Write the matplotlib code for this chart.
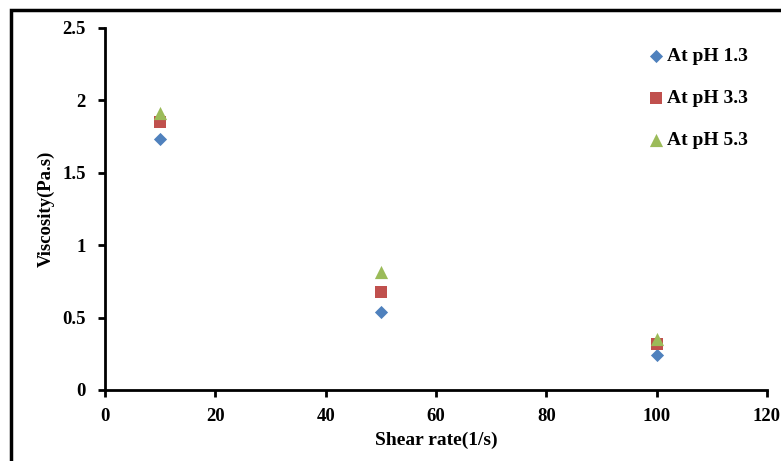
import matplotlib
matplotlib.use("Agg")
import matplotlib.pyplot as plt
from matplotlib.patches import Rectangle

shear_rate = [10, 50, 100]
visc_ph13 = [1.73, 0.54, 0.245]
visc_ph33 = [1.85, 0.68, 0.315]
visc_ph53 = [1.91, 0.815, 0.35]
series_labels = ["At pH 1.3", "At pH 3.3", "At pH 5.3"]
x_ticks = [0, 20, 40, 60, 80, 100, 120]
y_ticks = [0, 0.5, 1, 1.5, 2, 2.5]
y_tick_labels = ["0", "0.5", "1", "1.5", "2", "2.5"]

plt.rcParams['font.family'] = ['Liberation Serif', 'DejaVu Serif']
plt.rcParams['font.weight'] = 'bold'

fig = plt.figure(figsize=(7.81, 4.61), dpi=100)
ax = fig.add_axes([105/781, 1-390/461, (767-105)/781, (390-28)/461])

ax.scatter(shear_rate, visc_ph13, marker='D', s=45, color='#4F81BD', label=series_labels[0], zorder=3, linewidths=0)
ax.scatter(shear_rate, visc_ph33, marker='s', s=80, color='#C0504D', label=series_labels[1], zorder=3, linewidths=0)
ax.scatter(shear_rate, visc_ph53, marker='^', s=90, color='#9BBB59', label=series_labels[2], zorder=4, linewidths=0)

ax.set_xlim(0, 120)
ax.set_ylim(0, 2.5)
ax.set_xticks(x_ticks)
ax.set_xticklabels([str(t) for t in x_ticks])
ax.set_yticks(y_ticks)
ax.set_yticklabels(y_tick_labels)
for s in ['top', 'right']:
    ax.spines[s].set_visible(False)
for s in ['left', 'bottom']:
    ax.spines[s].set_linewidth(2)
ax.tick_params(axis='both', direction='out', length=5, width=2, labelsize=13.5)
ax.tick_params(axis='y', pad=9)
ax.tick_params(axis='x', pad=8)
for lbl in ax.get_xticklabels() + ax.get_yticklabels():
    lbl.set_fontweight('bold')

ax.set_xlabel("Shear rate(1/s)", fontsize=14, fontweight='bold', labelpad=5)
ax.set_ylabel("Viscosity(Pa.s)", fontsize=13.5, fontweight='bold', labelpad=5)

leg = ax.legend(loc='upper right', bbox_to_anchor=(0.997, 0.995), frameon=False,
                prop={'family': 'Liberation Serif', 'weight': 'bold', 'size': 14},
                handletextpad=0.05, labelspacing=1.25, handlelength=1.0, markerscale=1.0)

# outer frame (clipped at right and bottom)
fig.patches.append(Rectangle((11/781, -0.05), 1.1, 1 - 10/461 + 0.05,
                             transform=fig.transFigure, fill=False,
                             edgecolor='black', linewidth=2.5, clip_on=False))

fig.savefig("out.png", dpi=100)
